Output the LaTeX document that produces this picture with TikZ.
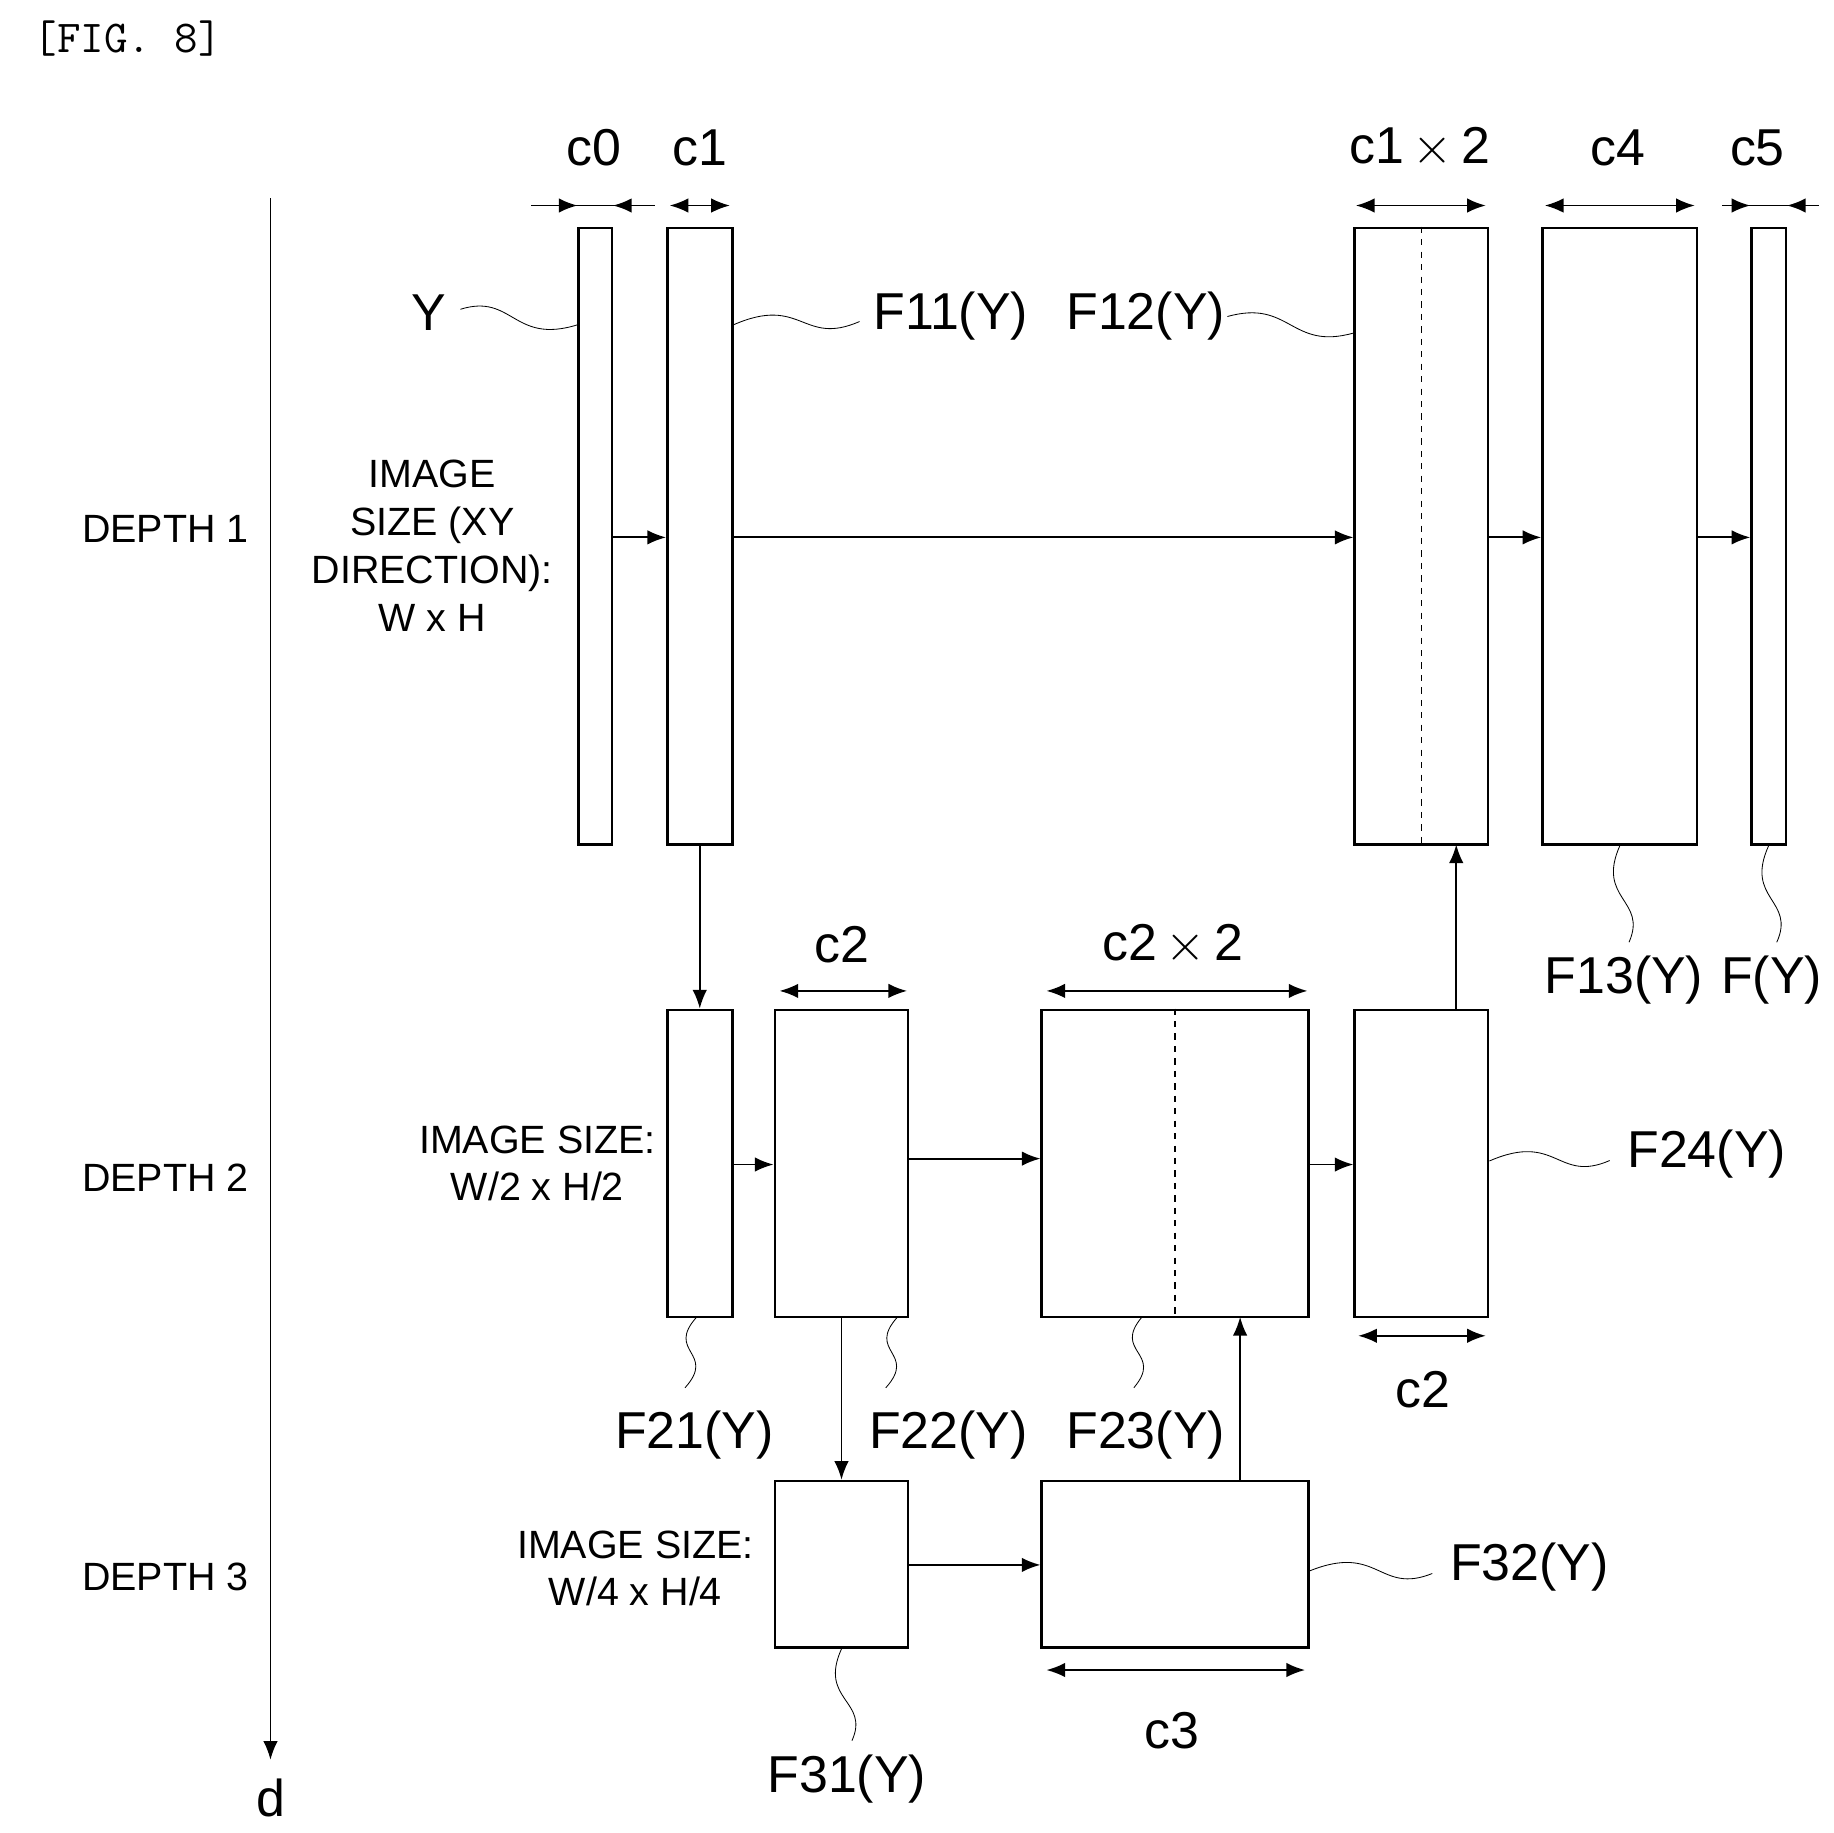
\documentclass[tikz,border=0pt]{standalone}
\usepackage{fontspec}
\setmainfont{Liberation Sans}
\usetikzlibrary{arrows.meta,calc}
\tikzset{
  box/.style={draw, line width=1.2pt, inner sep=0pt},
  flow/.style={line width=0.9pt, -{Latex[length=9pt,width=7pt]}},
  dim/.style={line width=0.9pt, {Latex[length=9pt,width=7pt]}-{Latex[length=9pt,width=7pt]}},
  lbl/.style={font=\fontsize{25}{27}\selectfont, inner sep=1pt},
  small/.style={font=\fontsize{19}{23}\selectfont, align=center, inner sep=1pt},
  hwave/.style={line width=0.8pt, to path={.. controls ($(\tikztostart)!0.5!(\tikztotarget)+(0,-22)$) and ($(\tikztostart)!0.5!(\tikztotarget)+(0,22)$) .. (\tikztotarget)}},
  vwave/.style={line width=0.8pt, to path={.. controls ($(\tikztostart)!0.5!(\tikztotarget)+(-22,0)$) and ($(\tikztostart)!0.5!(\tikztotarget)+(22,0)$) .. (\tikztotarget)}}
}
% box node from x1,x2,y1,y2 in pixels
\newcommand{\bx}[5]{\node[box, minimum width={(#3-#2)*0.02cm}, minimum height={(#5-#4)*0.02cm}] (#1) at ({(#2+#3)/2},{(#4+#5)/2}) {};}
\begin{document}
\begin{tikzpicture}[x=0.02cm, y=-0.02cm]
  \useasboundingbox (0,0) rectangle (1552,1552);
  \node[font=\ttfamily\fontsize{22}{24}\selectfont] (fig) at (108,33) {[FIG. 8]};

  % depth axis
  \coordinate (dtop) at (229,168);
  \coordinate (dbot) at (229,1490);
  \draw[flow] (dtop) -- (dbot);
  \node[lbl] (d) at (229,1522) {d};
  \node[small] (dp1) at (140,448) {DEPTH 1};
  \node[small] (dp2) at (140,997) {DEPTH 2};
  \node[small] (dp3) at (140,1335) {DEPTH 3};

  % depth 1
  \bx{Y}{490}{518}{193}{715}
  \bx{F11}{565}{620}{193}{715}
  \bx{F12}{1147}{1260}{193}{715}
  \bx{F13}{1306}{1437}{193}{715}
  \bx{F}{1483}{1512}{193}{715}
  \draw[dashed, line width=0.8pt] (F12.north) -- (F12.south);

  \draw[flow] (Y.east |- 0,455) -- (F11.west |- 0,455);
  \draw[flow] (F11.east |- 0,455) -- (F12.west |- 0,455);
  \draw[flow] (F12.east |- 0,455) -- (F13.west |- 0,455);
  \draw[flow] (F13.east |- 0,455) -- (F.west |- 0,455);

  % widths, depth 1
  \node[lbl] (c0) at (503,125) {c0};
  \node[lbl] (c1) at (593,125) {c1};
  \node[lbl] (c1x2) at (1202,125) {c1$\,\times\,$2};
  \node[lbl] (c4) at (1370,125) {c4};
  \node[lbl] (c5) at (1488,125) {c5};
  \draw[line width=0.9pt] (450,174) -- (555,174);
  \draw[flow] (462,174) -- (Y.west |- 0,174);
  \draw[flow] (543,174) -- (Y.east |- 0,174);
  \draw[dim] (567,174) -- (618,174);
  \draw[dim] (1148,174) -- (1258,174);
  \draw[dim] (1308,174) -- (1435,174);
  \draw[line width=0.9pt] (1458,174) -- (1540,174);
  \draw[flow] (1460,174) -- (F.west |- 0,174);
  \draw[flow] (1535,174) -- (F.east |- 0,174);

  \node[lbl] (tY) at (363,265) {Y};
  \node[lbl] (tF11) at (805,268) {F11(Y)};
  \node[lbl] (tF12) at (970,268) {F12(Y)};
  \node[lbl] (tF13) at (1375,830) {F13(Y)};
  \node[lbl] (tF) at (1500,830) {F(Y)};
  \draw[shorten <=6pt] (tY.east) to[hwave] (Y.west |- 0,275);
  \draw[shorten >=6pt] (F11.east |- 0,275) to[hwave] (tF11.west);
  \draw (tF12.east) to[hwave] (F12.west |- 0,282);
  \draw[shorten >=6pt] (F13.south) to[vwave] (tF13.north);
  \draw[shorten >=6pt] (F.south) to[vwave] (tF.north);

  \node[small] (sz1) at (366,462) {IMAGE\\SIZE (XY\\DIRECTION):\\W x H};

  % depth 2
  \bx{F21}{565}{620}{855}{1115}
  \bx{F22}{656}{769}{855}{1115}
  \bx{F23}{882}{1108}{855}{1115}
  \bx{F24}{1147}{1260}{855}{1115}
  \draw[dashed, line width=0.8pt] (F23.north) -- (F23.south);

  \draw[flow] (F11.south) -- (F21.north);
  \draw[flow] (F21.east |- 0,986) -- (F22.west |- 0,986);
  \draw[flow] (F22.east |- 0,981) -- (F23.west |- 0,981);
  \draw[flow] (F23.east |- 0,986) -- (F24.west |- 0,986);
  \draw[flow] (1233,855) -- (1233,715);

  \node[lbl] (c2a) at (713,800) {c2};
  \node[lbl] (c2x2) at (993,800) {c2$\,\times\,$2};
  \node[lbl] (c2b) at (1205,1177) {c2};
  \draw[dim] (660,839) -- (768,839);
  \draw[dim] (886,839) -- (1107,839);
  \draw[dim] (1150,1131) -- (1258,1131);

  \node[small] (sz2) at (455,985) {IMAGE SIZE:\\W/2 x H/2};

  \node[lbl] (tF21) at (588,1215) {F21(Y)};
  \node[lbl] (tF22) at (803,1215) {F22(Y)};
  \node[lbl] (tF23) at (970,1215) {F23(Y)};
  \node[lbl] (tF24) at (1445,977) {F24(Y)};
  \draw (590,1115) to[vwave] (580,1175);
  \draw (760,1115) to[vwave] (750,1175);
  \draw (967,1115) to[vwave] (960,1175);
  \draw[shorten >=8pt] (F24.east |- 0,983) to[hwave] (tF24.west);

  % depth 3
  \bx{F31}{656}{769}{1254}{1395}
  \bx{F32}{882}{1108}{1254}{1395}
  \draw[flow] (F22.south) -- (F31.north);
  \draw[flow] (F31.east |- 0,1325) -- (F32.west |- 0,1325);
  \draw[flow] (1050,1254) -- (1050,1115);

  \node[lbl] (c3) at (992,1465) {c3};
  \draw[dim] (886,1414) -- (1105,1414);

  \node[small] (sz3) at (538,1328) {IMAGE SIZE:\\W/4 x H/4};

  \node[lbl] (tF31) at (717,1506) {F31(Y)};
  \node[lbl] (tF32) at (1295,1327) {F32(Y)};
  \draw[shorten >=6pt] (F31.south) to[vwave] (tF31.north);
  \draw[shorten >=8pt] (F32.east |- 0,1330) to[hwave] (tF32.west);
\end{tikzpicture}
\end{document}
